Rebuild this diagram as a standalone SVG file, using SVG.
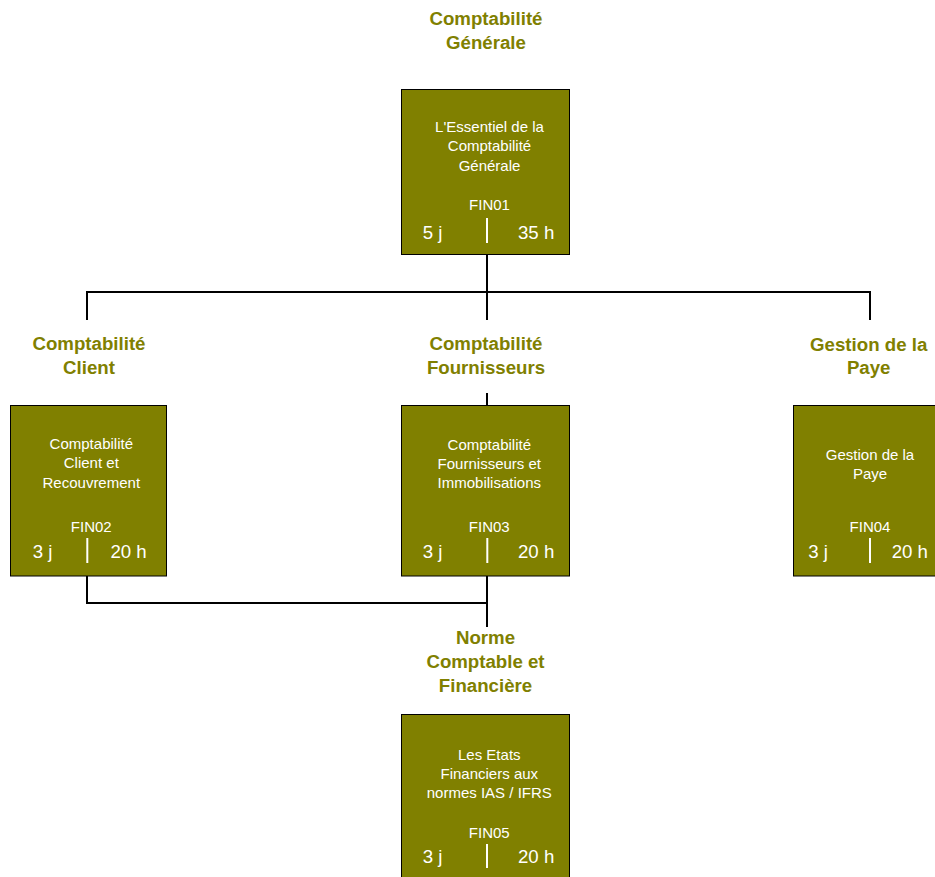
<svg xmlns="http://www.w3.org/2000/svg" width="935" height="877" viewBox="0 0 935 877">
<style>
.title{font-family:"Liberation Sans",Arial,sans-serif;font-weight:bold;font-size:18.67px;fill:#808000;text-anchor:middle}
.box{fill:#808000;stroke:#000;stroke-width:1}
.t{font-family:"Liberation Sans",Arial,sans-serif;font-size:15px;fill:#fff;text-anchor:middle}
.n{font-family:"Liberation Sans",Arial,sans-serif;font-size:18.67px;fill:#fff}
.e{text-anchor:end}
.div{stroke:#fff;stroke-width:2}
.c{fill:none;stroke:#000;stroke-width:2}
</style>
<g id="connectors">
<path class="c" d="M487 254V320M87 320V292H870V320M487 393V405M487 576V627M87 576V603H487"/>
</g>
<g id="fin01">
<text class="title" x="486" y="25">Comptabilité</text>
<text class="title" x="486" y="49">Générale</text>
<rect class="box" x="401.5" y="89.5" width="168" height="165"/>
<text class="t" x="489.5" y="132">L'Essentiel de la</text>
<text class="t" x="489.5" y="151.3">Comptabilité</text>
<text class="t" x="489.5" y="170.7">Générale</text>
<text class="t" x="489.5" y="210">FIN01</text>
<text class="n" x="422.7" y="239">5 j</text>
<line class="div" x1="487" y1="218" x2="487" y2="243"/>
<text class="n e" x="554.3" y="239">35 h</text>
</g>
<g id="fin02">
<text class="title" x="89" y="350">Comptabilité</text>
<text class="title" x="89" y="374">Client</text>
<rect class="box" x="10.5" y="405.5" width="156" height="170.5"/>
<text class="t" x="91.3" y="449.3">Comptabilité</text>
<text class="t" x="91.3" y="468.3">Client et</text>
<text class="t" x="91.3" y="487.7">Recouvrement</text>
<text class="t" x="91.3" y="531.7">FIN02</text>
<text class="n" x="32.7" y="557.7">3 j</text>
<line class="div" x1="87.3" y1="538" x2="87.3" y2="563"/>
<text class="n e" x="146.7" y="557.7">20 h</text>
</g>
<g id="fin03">
<text class="title" x="486" y="350">Comptabilité</text>
<text class="title" x="486" y="374">Fournisseurs</text>
<rect class="box" x="401.5" y="405.5" width="168" height="170.5"/>
<text class="t" x="489.3" y="450">Comptabilité</text>
<text class="t" x="489.3" y="469">Fournisseurs et</text>
<text class="t" x="489.3" y="488">Immobilisations</text>
<text class="t" x="489.3" y="531.7">FIN03</text>
<text class="n" x="422.7" y="557.7">3 j</text>
<line class="div" x1="487.3" y1="538" x2="487.3" y2="563"/>
<text class="n e" x="554.3" y="557.7">20 h</text>
</g>
<g id="fin04">
<text class="title" x="868.7" y="350.5">Gestion de la</text>
<text class="title" x="868.7" y="374">Paye</text>
<rect class="box" x="793.5" y="405.5" width="156" height="170.5"/>
<text class="t" x="870" y="460">Gestion de la</text>
<text class="t" x="870" y="479.3">Paye</text>
<text class="t" x="870" y="531.7">FIN04</text>
<text class="n" x="808.3" y="557.7">3 j</text>
<line class="div" x1="870" y1="538" x2="870" y2="563"/>
<text class="n e" x="928" y="557.7">20 h</text>
</g>
<g id="fin05">
<text class="title" x="485.5" y="644.3">Norme</text>
<text class="title" x="485.5" y="668.3">Comptable et</text>
<text class="title" x="485.5" y="692">Financière</text>
<rect class="box" x="401.5" y="714.5" width="168" height="170"/>
<text class="t" x="489.3" y="759.5">Les Etats</text>
<text class="t" x="489.3" y="778.7">Financiers aux</text>
<text class="t" x="489.3" y="798.3">normes IAS / IFRS</text>
<text class="t" x="489.3" y="838.3">FIN05</text>
<text class="n" x="422.7" y="863.3">3 j</text>
<line class="div" x1="487" y1="844" x2="487" y2="868"/>
<text class="n e" x="554.3" y="863.3">20 h</text>
</g>
</svg>
